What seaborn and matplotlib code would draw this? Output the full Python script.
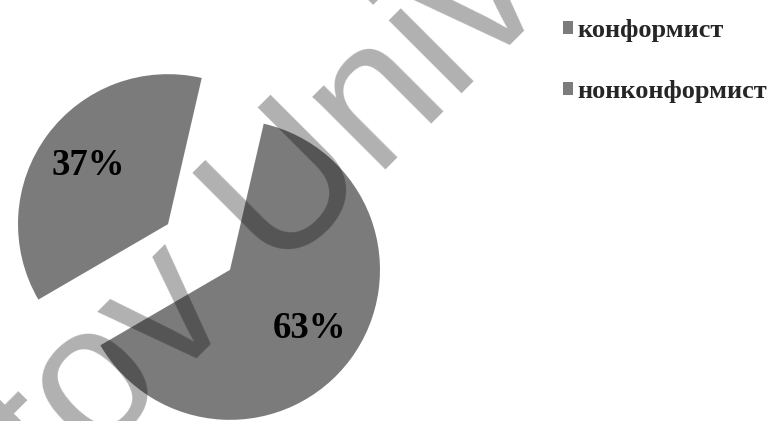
import matplotlib
matplotlib.use("Agg")
import matplotlib.pyplot as plt
import seaborn as sns

# Data
categories = ["конформист", "нонконформист"]
shares = [37, 63]
watermark = "tov Univ"

sns.set_theme(style="white")
plt.rcParams["font.family"] = ["Liberation Serif", "DejaVu Serif"]

slice_colors = sns.color_palette(["#7b7b7b", "#7b7b7b"])

fig = plt.figure(figsize=(7.71, 4.21), dpi=100)
ax = fig.add_axes([0, 0, 1, 1])

wedges, texts, autotexts = ax.pie(
    shares,
    colors=slice_colors,
    startangle=77,
    counterclock=True,
    center=(199, 174),
    radius=150,
    explode=[38.5, 38.5],
    autopct=lambda p: f"{p:.0f}%",
    pctdistance=0.66,
    wedgeprops=dict(linewidth=0, edgecolor="none"),
    textprops=dict(fontsize=26.5, color="black", family="Liberation Serif",
                   weight="bold"),
)

ax.set_xlim(0, 771)
ax.set_ylim(0, 421)
ax.set_aspect("equal")
ax.axis("off")

ax.legend(
    wedges, categories,
    loc="upper left",
    bbox_to_anchor=(563 / 771, 1 - 18.5 / 421),
    bbox_transform=fig.transFigure,
    frameon=False,
    borderpad=0, borderaxespad=0,
    handlelength=0.38, handleheight=0.38,
    handletextpad=0.15, labelspacing=1.46,
    prop=dict(family="Liberation Serif", weight="bold", size=19),
)

# watermark overlay
ax.text(55.5, -78.5, watermark, rotation=45, rotation_mode="anchor",
        ha="left", va="baseline", fontsize=140, family="Liberation Sans",
        color="black", alpha=0.31, zorder=10, clip_on=False)

fig.savefig("out.png", dpi=100)
